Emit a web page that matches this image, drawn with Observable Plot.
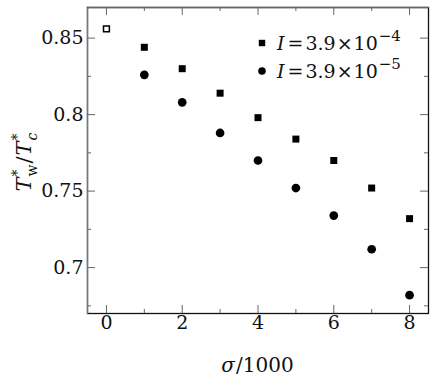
<!DOCTYPE html>
<html>
<head>
<meta charset="utf-8">
<script src="https://cdn.jsdelivr.net/npm/d3@7"></script>
<script src="https://cdn.jsdelivr.net/npm/@observablehq/plot@0.6"></script>
<style>
  html, body { margin: 0; padding: 0; background: white; }
  #chart svg { display: block; }
  #chart svg, #chart svg text { font-family: "DejaVu Serif", serif; }
</style>
</head>
<body>
<div id="chart"></div>
<script>
// data
const sigma = [1, 2, 3, 4, 5, 6, 7, 8];
const ratioHigh = [0.844, 0.830, 0.814, 0.798, 0.784, 0.770, 0.752, 0.732]; // I = 3.9e-4 (squares)
const ratioLow  = [0.826, 0.808, 0.788, 0.770, 0.752, 0.734, 0.712, 0.682]; // I = 3.9e-5 (circles)
const zeroSigma = [0];
const zeroRatio = [0.856];
const xMajor = [0, 2, 4, 6, 8];
const xMinor = [1, 3, 5, 7];
const yMajor = [0.7, 0.75, 0.8, 0.85];
const yMinor = [0.675, 0.725, 0.775, 0.825];
const legendEntries = [
  {symbol: "square", text: "3.9", exp: "−4"},
  {symbol: "circle", text: "3.9", exp: "−5"}
];

const high = sigma.map((s, i) => ({x: s, y: ratioHigh[i]}));
const low = sigma.map((s, i) => ({x: s, y: ratioLow[i]}));
const zero = zeroSigma.map((s, i) => ({x: s, y: zeroRatio[i]}));

const W = 436, H = 381, mL = 87, mR = 8, mT = 7, mB = 68;
const pw = W - mL - mR, ph = H - mT - mB;
const tickCol = "#666";
const FONT = "'DejaVu Serif', serif";

const chart = Plot.plot({
  width: W, height: H,
  marginLeft: mL, marginRight: mR, marginTop: mT, marginBottom: mB,
  x: {domain: [-0.5, 8.5]},
  y: {domain: [0.67, 0.87]},
  style: {fontFamily: FONT, fontSize: "19px", background: "white", color: "#111"},
  marks: [
    Plot.frame({stroke: "#111", strokeWidth: 1.3}),
    Plot.frame({anchor: "left", stroke: "#777", strokeWidth: 1.3}),
    Plot.frame({anchor: "top", stroke: "#666", strokeWidth: 1.3}),
    // inward ticks
    Plot.tickX(xMajor, {x: d => d, stroke: tickCol, insetTop: ph - 8}),
    Plot.tickX(xMinor, {x: d => d, stroke: tickCol, insetTop: ph - 4}),
    Plot.tickX(xMajor, {x: d => d, stroke: tickCol, insetBottom: ph - 8}),
    Plot.tickX(xMinor, {x: d => d, stroke: tickCol, insetBottom: ph - 4}),
    Plot.tickY(yMajor, {y: d => d, stroke: tickCol, insetRight: pw - 8}),
    Plot.tickY(yMinor, {y: d => d, stroke: tickCol, insetRight: pw - 4}),
    Plot.tickY(yMajor, {y: d => d, stroke: tickCol, insetLeft: pw - 8}),
    Plot.tickY(yMinor, {y: d => d, stroke: tickCol, insetLeft: pw - 4}),
    Plot.axisX(xMajor, {tickSize: 0, tickPadding: 2, tickFormat: d => String(d), label: null, fontSize: 19, fontFamily: FONT}),
    Plot.axisY(yMajor, {tickSize: 0, tickPadding: 4, tickFormat: d => String(d), label: null, fontSize: 19, fontFamily: FONT}),
    // data
    Plot.dot(zero, {x: "x", y: "y", symbol: "square", r: 3.3, stroke: "black", strokeWidth: 1.5, fill: "white"}),
    Plot.dot(high, {x: "x", y: "y", symbol: "square", r: 3.95, fill: "black", stroke: "none"}),
    Plot.dot(low, {x: "x", y: "y", symbol: "circle", r: 4.35, fill: "black", stroke: "none"})
  ]
});

const svg = d3.select(chart);
// legend (drawn with d3 inside the plot svg)
const lg = svg.append("g").attr("font-family", FONT).attr("font-size", 19).attr("text-anchor", "start").attr("fill", "#111");
legendEntries.forEach((e, i) => {
  const cy = 43 + i * 28;
  if (e.symbol === "square") {
    lg.append("rect").attr("x", 262 - 3.2).attr("y", cy - 3.2).attr("width", 6.4).attr("height", 6.4).attr("fill", "black");
  } else {
    lg.append("circle").attr("cx", 262).attr("cy", cy).attr("r", 3.8).attr("fill", "black");
  }
  const t = lg.append("text").attr("x", 277).attr("y", cy + 7).attr("text-anchor", "start");
  t.append("tspan").attr("font-style", "italic").text("I");
  t.append("tspan").attr("dx", 3).text("=");
  t.append("tspan").attr("dx", 2).text(e.text);
  t.append("tspan").attr("dx", 1).text("×");
  t.append("tspan").attr("dx", 1).text("10");
  t.append("tspan").attr("dy", -9).attr("dx", 1).attr("font-size", 15).text(e.exp);
});

// axis titles
const xl = svg.append("text").attr("x", mL + pw / 2).attr("y", 372).attr("text-anchor", "middle")
  .attr("font-family", FONT).attr("font-size", 20).attr("fill", "#111");
xl.append("tspan").attr("font-style", "italic").text("σ");
xl.append("tspan").attr("dx", 1).text("/1000");

const yl = svg.append("text").attr("transform", `translate(31,162) rotate(-90)`).attr("text-anchor", "middle")
  .attr("font-family", FONT).attr("font-size", 21).attr("fill", "#111");
yl.append("tspan").attr("font-style", "italic").text("T");
yl.append("tspan").attr("dy", -9).attr("dx", 1).attr("font-size", 14).text("*");
yl.append("tspan").attr("dy", 15).attr("dx", -7).attr("font-size", 14).text("w");
yl.append("tspan").attr("dy", -6).attr("dx", 1).text("/");
yl.append("tspan").attr("font-style", "italic").attr("dx", 1).text("T");
yl.append("tspan").attr("dy", -9).attr("dx", 1).attr("font-size", 14).text("*");
yl.append("tspan").attr("dy", 15).attr("dx", -7).attr("font-size", 14).attr("font-style", "italic").text("c");

document.getElementById("chart").appendChild(chart);
</script>
</body>
</html>
